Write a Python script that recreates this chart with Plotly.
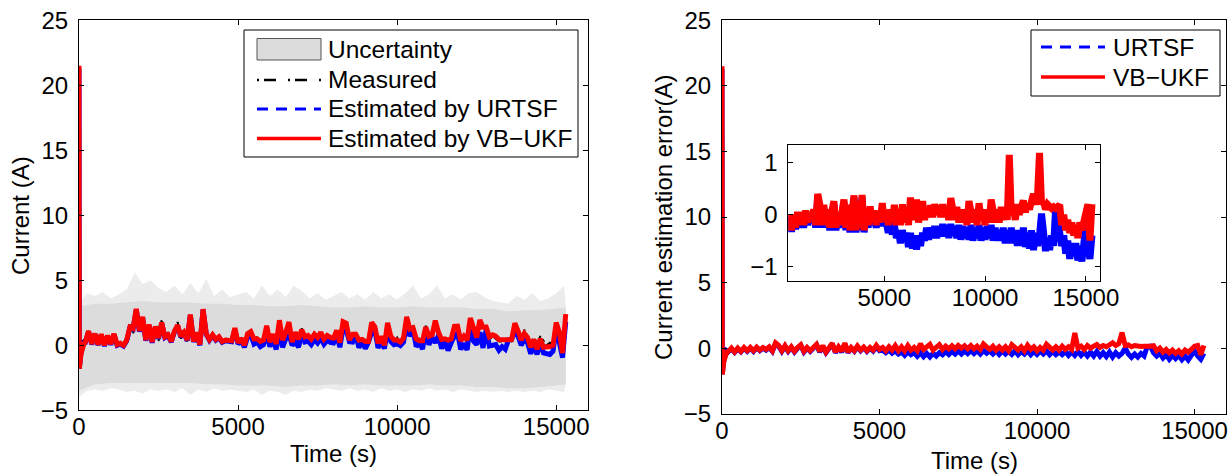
import numpy as np
import plotly.graph_objects as go

# ---------------------------------------------------------------------------
# Data: battery current test, ~15300 s
# ---------------------------------------------------------------------------
# sample times (s): start-up transient, then 100 s steps
time_s = [0, 10, 30, 60, 100, 150] + list(range(200, 15301, 100))

# measured current (A)
measured_a = [
    0.0, 0.2, 0.2, 0.3, 0.3, 0.4,
    0.5, 1.1, 0.4, 0.9, 0.3, 0.8, 0.2, 0.7, 0.3,
    0.8, 0.2, 0.1, 0.1, 0.3, 1.6, 0.9, 2.6, 1.3, 2.0,
    0.6, 1.5, 0.5, 1.4, 0.3, 2.0, 0.6, 1.0, 0.2, 0.8,
    1.8, 0.5, 1.3, 0.3, 2.0, 0.6, 0.9, 0.3, 2.4, 1.2,
    0.4, 1.0, 0.3, 0.8, 0.2, 0.6, 0.3, 0.5, 1.1, 0.3,
    0.5, 0.2, 0.8, 1.2, 0.3, 0.7, 0.2, 0.6, 1.3, 0.4,
    0.8, 0.3, 1.6, 0.5, 0.9, 1.5, 0.4, 0.9, 0.2, 1.3,
    0.5, 0.8, 0.3, 0.9, 0.4, 1.0, 0.3, 0.8, 0.4, 0.6,
    1.0, 0.3, 1.5, 1.6, 0.5, 0.7, 1.0, 0.3, 0.6, 0.2,
    0.5, 1.5, 1.4, 0.3, 0.6, 0.2, 1.5, 0.8, 0.3, 0.6,
    0.2, 0.7, 1.9, 1.2, 1.5, 0.4, 0.5, 0.2, 1.5, 0.6,
    0.9, 0.75, 1.0, 0.3, 0.6, 0.2, 0.5, 1.3, 1.2, 0.3,
    0.5, 0.3, 1.8, 1.0, 0.4, 1.6, 0.2, 1.2, 0.4, 0.7,
    0.5, 0.3, 0.3, 0.3, 0.3, 0.3, 1.5, 1.3, 0.4, 1.2,
    0.7, 0.2, 0.6, 0.1, 0.7, 0.3, 0.0, 0.2, 0.1, 1.6,
    0.8, -0.1, 2.2,
]

# estimation error of the VB-UKF (A)
err_vbukf = [
    21.5, -2.0, -1.6, -1.0, -0.6, -0.3,
    -0.25, 0.0, -0.3, 0.0, -0.25, 0.05, -0.2, 0.05, -0.2,
    0.08, -0.15, 0.05, -0.1, 0.1, -0.2, 0.40, 0.2, -0.2, 0.19,
    -0.2, 0.1, -0.25, 0.05, 0.26, -0.25, 0.05, -0.2, 0.1, 0.29,
    -0.25, 0.19, -0.3, 0.1, 0.37, -0.3, 0.1, -0.25, 0.38, -0.3,
    0.05, -0.2, 0.16, -0.15, 0.08, -0.2, 0.05, -0.15, 0.22, -0.1,
    0.05, -0.2, 0.1, -0.15, 0.19, -0.2, 0.1, -0.2, 0.2, -0.15,
    0.05, -0.2, 0.33, -0.1, 0.1, 0.29, -0.15, 0.1, 0.26, -0.1,
    0.15, -0.05, 0.18, -0.05, 0.2, 0.0, 0.18, -0.05, 0.2, -0.05,
    0.15, -0.1, 0.32, 0.1, -0.1, 0.15, -0.15, 0.1, -0.15, 0.1,
    -0.2, 0.26, 0.0, -0.15, 0.1, -0.2, 0.22, -0.1, 0.1, -0.2,
    0.05, -0.15, 0.29, 0.05, -0.15, 0.1, -0.15, 0.15, -0.1, 0.1,
    -0.1, 1.15, 0.0, 0.15, -0.1, 0.2, 0.0, 0.15, 0.27, 0.05,
    0.2, 0.1, 0.3, 0.4, 0.2, 0.35, 1.19, 0.2, 0.25, 0.1,
    0.2, 0.15, 0.12, 0.15, 0.12, 0.15, 0.19, -0.2, 0.0, -0.3,
    -0.1, -0.35, -0.15, -0.4, -0.2, -0.45, -0.15, -0.3, -0.1, 0.15,
    0.2, -0.5, 0.2,
]

# estimation error of the URTSF (A)
err_urtsf = [
    21.3, -2.0, -1.5, -0.9, -0.5, -0.2,
    -0.28, -0.05, -0.33, -0.05, -0.28, 0.0, -0.25, 0.0, -0.25,
    0.03, -0.2, 0.0, -0.15, 0.05, -0.25, 0.35, 0.15, -0.25, 0.14,
    -0.25, 0.05, -0.3, 0.0, 0.2, -0.3, 0.0, -0.25, 0.05, 0.24,
    -0.3, 0.14, -0.34, 0.05, 0.32, -0.34, 0.05, -0.3, 0.33, -0.34,
    0.0, -0.25, 0.1, -0.2, 0.03, -0.25, 0.0, -0.22, 0.1, -0.2,
    -0.15, -0.35, -0.15, -0.38, -0.2, -0.45, -0.3, -0.55, -0.3, -0.5,
    -0.35, -0.62, -0.35, -0.65, -0.4, -0.67, -0.4, -0.6, -0.35, -0.5,
    -0.25, -0.48, -0.25, -0.45, -0.22, -0.45, -0.22, -0.42, -0.18, -0.42,
    -0.2, -0.45, -0.18, -0.4, -0.22, -0.45, -0.2, -0.48, -0.22, -0.45,
    -0.25, -0.48, -0.2, -0.5, -0.25, -0.45, -0.2, -0.5, -0.25, -0.48,
    -0.22, -0.45, -0.2, -0.5, -0.25, -0.5, -0.3, -0.5, -0.25, -0.55,
    -0.3, -0.55, -0.25, -0.55, -0.3, -0.6, -0.3, -0.6, -0.25, -0.62,
    -0.35, -0.65, -0.3, -0.68, -0.35, -0.6, -0.4, 0.02, -0.45, -0.7,
    -0.45, -0.68, -0.4, -0.6, 0.12, 0.15, -0.35, -0.6, -0.4, -0.75,
    -0.5, -0.85, -0.55, -0.8, -0.55, -0.88, -0.6, -0.9, -0.55, -0.2,
    -0.6, -0.85, -0.4,
]

# uncertainty region of the estimate (A): core band and its outer spikes
band_t = list(range(0, 15001, 500)) + [15300]
band_hi = [3.0, 3.2, 3.2, 3.3, 3.4, 3.3, 3.3, 3.3, 3.2, 3.2,
           3.1, 3.1, 3.0, 3.0, 3.1, 3.0, 2.9, 2.9, 3.0, 2.9,
           2.9, 3.0, 2.9, 2.9, 2.9, 2.8, 2.8, 2.6, 2.7, 2.7,
           2.8, 2.9]
band_lo = [-3.5, -3.0, -2.9, -2.9, -2.9, -2.9, -2.9, -2.9, -3.0, -3.0,
           -3.1, -3.1, -3.1, -3.2, -3.1, -3.1, -3.0, -3.1, -3.0, -3.1,
           -3.1, -3.1, -3.0, -3.1, -3.1, -3.2, -3.2, -3.3, -3.3, -3.2,
           -3.1, -3.0]

spike_t = list(range(0, 15251, 250)) + [15300]
spike_hi = [3.3, 4.0, 3.8, 4.1, 3.6, 3.9, 4.3, 5.6, 4.7, 5.0,
            4.4, 4.1, 4.6, 3.9, 4.8, 4.0, 5.1, 3.8, 4.3, 3.7,
            3.9, 4.1, 3.6, 4.6, 3.8, 4.3, 3.7, 4.6, 4.2, 3.6,
            4.0, 3.5, 3.8, 4.1, 3.6, 3.9, 3.5, 4.1, 3.6, 3.9,
            3.5, 4.0, 4.6, 3.6, 3.9, 4.6, 3.6, 3.9, 3.5, 4.0,
            4.1, 3.7, 3.4, 3.3, 3.2, 3.8, 3.5, 4.0, 3.4, 3.6,
            4.0, 4.6, 3.0]
spike_lo = [-4.0, -3.5, -3.4, -3.5, -3.3, -3.4, -3.6, -3.5, -3.7, -3.4,
            -3.5, -3.4, -3.6, -3.3, -3.8, -3.4, -3.6, -3.3, -3.5, -3.4,
            -3.5, -3.6, -3.4, -3.8, -3.5, -3.6, -3.8, -3.5, -3.6, -3.4,
            -3.5, -3.3, -3.4, -3.5, -3.3, -3.5, -3.4, -3.6, -3.3, -3.5,
            -3.4, -3.6, -3.4, -3.5, -3.3, -3.5, -3.4, -3.6, -3.4, -3.5,
            -3.6, -3.5, -3.6, -3.5, -3.6, -3.5, -3.6, -3.5, -3.6, -3.4,
            -3.5, -3.6, -3.0]

# axis ticks
main_xticks = [0, 5000, 10000, 15000]
main_yticks = [-5, 0, 5, 10, 15, 20, 25]
inset_xticks = [5000, 10000, 15000]
inset_yticks = [-1, 0, 1]

# ---------------------------------------------------------------------------
t = np.array(time_s, dtype=float)
meas = np.array(measured_a)
e_vb = np.array(err_vbukf)
e_ur = np.array(err_urtsf)
est_vb = meas + e_vb
est_ur = meas + e_ur
steady = t >= 200          # the inset shows the run after start-up

FONT = "Liberation Sans, Arial, Helvetica, sans-serif"
RED = "#ff0000"
BLUE = "#0000ff"
W, H = 1230, 475


def px(x):
    return x / W


def py(y):
    return 1 - y / H


def labels(vals):
    return [f"{v:g}".replace("-", "\u2212") for v in vals]


fig = go.Figure()

# --- left panel: current with uncertainty ----------------------------------
fig.add_trace(go.Scatter(
    x=spike_t + spike_t[::-1], y=spike_hi + spike_lo[::-1],
    fill="toself", fillcolor="#ececec", line=dict(width=0),
    mode="lines", hoverinfo="skip", xaxis="x", yaxis="y"))
fig.add_trace(go.Scatter(
    x=band_t + band_t[::-1], y=band_hi + band_lo[::-1],
    fill="toself", fillcolor="#dcdcdc", line=dict(width=0),
    mode="lines", hoverinfo="skip", xaxis="x", yaxis="y"))
fig.add_trace(go.Scatter(x=t, y=meas, mode="lines",
                         line=dict(color="black", width=2, dash="dashdot"),
                         xaxis="x", yaxis="y"))
fig.add_trace(go.Scatter(x=t, y=est_ur, mode="lines",
                         line=dict(color=BLUE, width=5),
                         xaxis="x", yaxis="y"))
fig.add_trace(go.Scatter(x=t, y=est_vb, mode="lines",
                         line=dict(color=RED, width=5),
                         xaxis="x", yaxis="y"))

# --- right panel: estimation errors -----------------------------------------
fig.add_trace(go.Scatter(x=t, y=e_ur, mode="lines",
                         line=dict(color=BLUE, width=5), xaxis="x2", yaxis="y2"))
fig.add_trace(go.Scatter(x=t, y=e_vb, mode="lines",
                         line=dict(color=RED, width=5), xaxis="x2", yaxis="y2"))
# zoomed inset
fig.add_trace(go.Scatter(x=t[steady], y=e_ur[steady], mode="lines",
                         line=dict(color=BLUE, width=7), xaxis="x3", yaxis="y3"))
fig.add_trace(go.Scatter(x=t[steady], y=e_vb[steady], mode="lines",
                         line=dict(color=RED, width=7), xaxis="x3", yaxis="y3"))

fig.update_traces(showlegend=False)

axis_style = dict(
    showline=True, linecolor="black", linewidth=1, mirror="ticks",
    ticks="inside", ticklen=5, tickwidth=1, tickcolor="black",
    showgrid=False, zeroline=False, automargin=False,
    tickfont=dict(family=FONT, size=24, color="black"),
)
xstyle = dict(axis_style, ticklabelstandoff=-5)
ystyle = dict(axis_style, ticklabelstandoff=5)

fig.update_layout(
    width=W, height=H,
    margin=dict(l=0, r=0, t=0, b=0, autoexpand=False),
    paper_bgcolor="white", plot_bgcolor="white",
    font=dict(family=FONT, color="black"),
    xaxis=dict(domain=[px(79), px(588)], range=[0, 16000],
               tickvals=main_xticks, ticktext=labels(main_xticks),
               anchor="y", **xstyle),
    yaxis=dict(domain=[py(410.3), py(20.3)], range=[-5, 25],
               tickvals=main_yticks, ticktext=labels(main_yticks),
               anchor="x", **ystyle),
    xaxis2=dict(domain=[px(722), px(1226)], range=[0, 16000],
                tickvals=main_xticks, ticktext=labels(main_xticks),
                anchor="y2", **xstyle),
    yaxis2=dict(domain=[py(413.7), py(20.3)], range=[-5, 25],
                tickvals=main_yticks, ticktext=labels(main_yticks),
                anchor="x2", **ystyle),
    xaxis3=dict(domain=[px(788.3), px(1100)], range=[240, 15700],
                tickvals=inset_xticks, ticktext=labels(inset_xticks),
                anchor="y3", **xstyle),
    yaxis3=dict(domain=[py(280.7), py(145)], range=[-1.27, 1.34],
                tickvals=inset_yticks, ticktext=labels(inset_yticks),
                anchor="x3", **ystyle),
)

annotations = []
shapes = []

# axis titles
title_font = dict(family=FONT, size=24, color="black")
annotations += [
    dict(text="Current (A)", x=px(21), y=py(216), textangle=-90),
    dict(text="Time (s)", x=px(333), y=py(453)),
    dict(text="Current estimation error(A)", x=px(664), y=py(218), textangle=-90),
    dict(text="Time (s)", x=px(974), y=py(460)),
]
for a in annotations:
    a.update(xref="paper", yref="paper", showarrow=False, font=title_font,
             xanchor="center", yanchor="middle")

# legend boxes drawn in page coordinates
legend_font = dict(family=FONT, size=24.5, color="black")


def legend_box(x0, y0, x1, y1):
    shapes.append(dict(type="rect", xref="paper", yref="paper",
                       x0=px(x0), x1=px(x1), y0=py(y1), y1=py(y0),
                       fillcolor="white", line=dict(color="black", width=1),
                       layer="above"))


def legend_line(x0, x1, y, color, width, dash):
    shapes.append(dict(type="line", xref="paper", yref="paper",
                       x0=px(x0), x1=px(x1), y0=py(y), y1=py(y),
                       line=dict(color=color, width=width, dash=dash),
                       layer="above"))


def legend_text(x, y, text):
    annotations.append(dict(text=text, xref="paper", yref="paper",
                            x=px(x), y=py(y), xanchor="left", yanchor="middle",
                            showarrow=False, font=legend_font))


legend_box(244, 30, 578, 157)
shapes.append(dict(type="rect", xref="paper", yref="paper",
                   x0=px(257), x1=px(321), y0=py(60), y1=py(38.5),
                   fillcolor="#dcdcdc", line=dict(color="#555555", width=1),
                   layer="above"))
legend_text(326, 49, "Uncertainty")
legend_line(257, 321, 80, "black", 2.5, "2px,5px,12px,12px")
legend_text(326, 80, "Measured")
legend_line(257, 321, 109, BLUE, 3, "11px,8px")
legend_text(326, 109, "Estimated by URTSF")
legend_line(257, 321, 138.5, RED, 3.5, "solid")
legend_text(326, 138.5, "Estimated by VB\u2212UKF")

legend_box(1031, 30, 1220, 96)
legend_line(1041, 1105, 47, BLUE, 3, "11px,8px")
legend_text(1111, 47, "URTSF")
legend_line(1041, 1105, 77, RED, 3.5, "solid")
legend_text(1111, 77, "VB\u2212UKF")

fig.update_layout(annotations=annotations, shapes=shapes)

fig.write_html("out.html")
